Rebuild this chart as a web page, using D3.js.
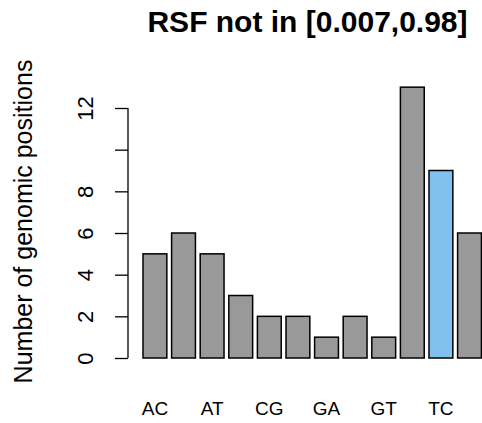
<!DOCTYPE html>
<html>
<head>
<meta charset="utf-8">
<script src="https://cdn.jsdelivr.net/npm/d3@7"></script>
<style>
  body { margin: 0; background: #fff; }
  svg { display: block; font-family: "Liberation Sans", Arial, sans-serif; }
</style>
</head>
<body>
<script>
let categories = ['AC', 'AG', 'AT', 'CA', 'CG', 'CT', 'GA', 'GC', 'GT', 'TA', 'TC', 'TG']
let counts = [5, 6, 5, 3, 2, 2, 1, 2, 1, 13, 9, 6]
let highlight = ['TC']
let yTicks = [0, 2, 4, 6, 8, 10, 12]
let yTickLabels = ['0', '2', '4', '6', '8', '', '12']
let xTickLabels = ['AC', 'AT', 'CG', 'GA', 'GT', 'TC']

let width = 482
let height = 423
let font = '"Liberation Sans", Arial, sans-serif'

let svg = d3.select('body').append('svg')
  .attr('width', width)
  .attr('height', height)

let step = 28.6
let x = d3.scaleBand()
  .domain(categories)
  .range([143, 143 + step * (categories.length - 1 / 6)])
  .paddingInner(1 / 6)
  .paddingOuter(0)

let y = d3.scaleLinear()
  .domain([0, 12])
  .range([358, 108])

// bars
svg.append('g')
  .selectAll('rect')
  .data(categories)
  .enter().append('rect')
    .attr('x', (d) => x(d))
    .attr('width', x.bandwidth())
    .attr('y', (d, i) => y(counts[i]))
    .attr('height', (d, i) => y(0) - y(counts[i]))
    .attr('fill', (d) => highlight.includes(d) ? '#80c1ee' : '#999999')
    .attr('stroke', 'black')
    .attr('stroke-width', 1.5)

// y axis
let axis_y = svg.append('g')
  .attr('transform', 'translate(128,0)')
  .call(d3.axisLeft(y)
    .tickValues(yTicks)
    .tickSize(13)
    .tickPadding(0)
    .tickFormat((d, i) => yTickLabels[i]))
  .attr('font-family', font)
  .attr('font-size', 22)

axis_y.select('.domain')
  .attr('d', 'M0,' + y(0) + 'V' + y(12))
  .attr('stroke-width', 1.3)
axis_y.selectAll('.tick line').attr('stroke-width', 1.3)
axis_y.selectAll('.tick text')
  .attr('x', 0)
  .attr('dy', 0)
  .attr('transform', 'translate(-35,0) rotate(-90)')
  .attr('text-anchor', 'middle')
  .attr('fill', 'black')

// x labels
let axis_x = svg.append('g')
  .attr('transform', 'translate(0,415)')
  .call(d3.axisBottom(x)
    .tickValues(xTickLabels)
    .tickSize(0)
    .tickPadding(0))
  .attr('font-family', font)
  .attr('font-size', 19)
axis_x.select('.domain').remove()
axis_x.selectAll('.tick text')
  .attr('dy', 0)
  .attr('y', 0)
  .attr('fill', 'black')

// axis title
svg.append('text')
  .attr('transform', 'translate(32,221.5) rotate(-90)')
  .attr('text-anchor', 'middle')
  .attr('font-size', 25)
  .text('Number of genomic positions')

// main title
svg.append('text')
  .attr('x', 307.5)
  .attr('y', 32)
  .attr('text-anchor', 'middle')
  .attr('font-size', 30)
  .attr('font-weight', 'bold')
  .text('RSF not in [0.007,0.98]')
</script>
</body>
</html>
